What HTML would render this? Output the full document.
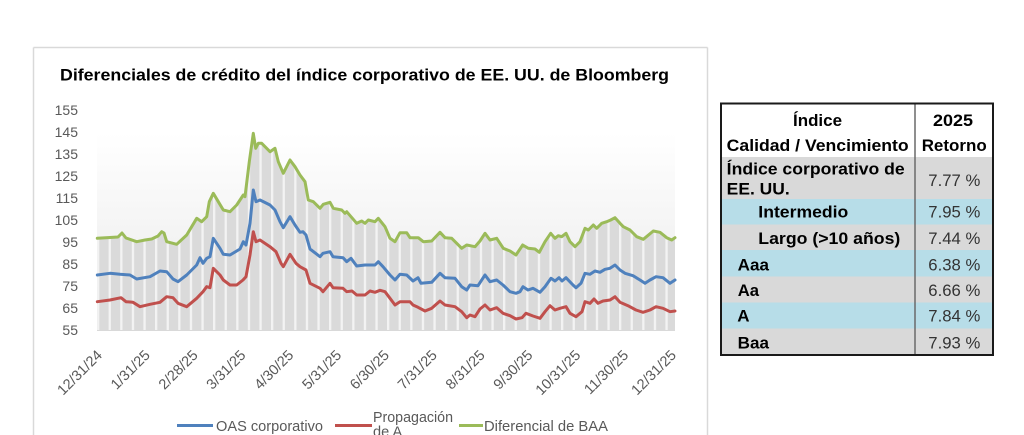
<!DOCTYPE html>
<html>
<head>
<meta charset="utf-8">
<style>
html,body{margin:0;padding:0;background:#fff;}
body{width:1024px;height:435px;overflow:hidden;}
svg{display:block;}
text{font-family:"Liberation Sans",Arial,sans-serif;}
</style>
</head>
<body>
<svg width="1024" height="435" viewBox="0 0 1024 435" xmlns="http://www.w3.org/2000/svg">
<defs>
  <linearGradient id="bg" x1="0" y1="0" x2="0" y2="1">
    <stop offset="0" stop-color="#ffffff"/>
    <stop offset="1" stop-color="#e9e9e9"/>
  </linearGradient>
  <pattern id="stripes" patternUnits="userSpaceOnUse" x="97" y="0" width="11.6" height="10">
    <rect x="0" y="0" width="11.6" height="10" fill="#dadada"/>
    <rect x="0" y="0" width="2.3" height="10" fill="#f3f3f3"/>
  </pattern>
  <clipPath id="frameclip">
    <rect x="0" y="0" width="1024" height="435"/>
  </clipPath>
</defs>

<!-- chart frame -->
<line x1="33.5" y1="47.5" x2="707.5" y2="47.5" stroke="#d9d9d9" stroke-width="1.5"/>
<line x1="33.5" y1="47.5" x2="33.5" y2="435" stroke="#d9d9d9" stroke-width="1.5"/>
<line x1="707.5" y1="47.5" x2="707.5" y2="435" stroke="#d9d9d9" stroke-width="1.5"/>

<!-- title -->
<text x="60" y="80.5" font-size="17" font-weight="bold" fill="#000" textLength="609" lengthAdjust="spacingAndGlyphs">Diferenciales de crédito del índice corporativo de EE. UU. de Bloomberg</text>

<!-- plot background -->
<rect x="97" y="133" width="578" height="197" fill="url(#bg)"/>

<!-- gray columns area under BAA -->
<polygon fill="url(#stripes)" points="97.3,330 97.3,238.3 110,237.5 118,237 122,233 126,238 136.7,241.7 145,240 151.7,239 158,236 161.7,231.7 164,233 166.7,241.7 176.7,244.3 186.7,235 196.7,218.3 201.7,221.7 206.7,216.7 209.3,201.7 213.3,193.3 218.3,201.7 223.3,210 230,211.7 236.7,205 243.3,195 245,196.7 249.3,161.7 253.3,133.3 255.7,148.3 258.3,143.3 261.7,143.3 270,151.7 275,148.3 278.3,161.7 283.3,173.3 290,160 295,166.7 300,175 305,181.7 308.3,200 313.3,201.7 320,208.3 323.3,204.3 330,202.3 333.3,208.3 341.7,210 345,213.3 346.7,211.7 356.7,223.3 361.7,221 365,223.3 368.3,220 375,221.7 378.3,218.3 385,226.7 390,238.3 395,241.7 400,232.7 406.7,232.7 410,237.7 418.3,237.7 423.3,241.7 431.7,241 440,232.3 445,237.7 451.7,238.3 456.7,243.3 461.7,248.3 466.7,245 475,246.7 480,241 485,233.3 490,240 496.7,238.3 503.3,248.3 510,251 516,255 522.7,245 528.3,248.3 535,249 539.3,252.3 545,241.7 550.7,233.3 555,238.3 558.3,235.7 561.7,236.7 566,233.3 570,241.7 575,246.7 580,241.7 585,228.3 588.3,230 593.3,225 596.7,228.3 601.7,223.3 606.7,221.7 610.7,220 615,217.7 620,223.3 623.3,226.7 630,230 636.7,236.7 643.3,239.3 653.3,231 660,232.3 666.7,237.7 671.7,240 675,237.7 675,330"/>

<!-- axis line -->
<line x1="97" y1="330.5" x2="675" y2="330.5" stroke="#d9d9d9" stroke-width="1"/>

<!-- y labels -->
<g font-size="14" fill="#595959" text-anchor="end">
  <text x="78" y="115">155</text>
  <text x="78" y="137">145</text>
  <text x="78" y="159">135</text>
  <text x="78" y="181">125</text>
  <text x="78" y="203">115</text>
  <text x="78" y="225">105</text>
  <text x="78" y="247">95</text>
  <text x="78" y="269">85</text>
  <text x="78" y="291">75</text>
  <text x="78" y="313">65</text>
  <text x="78" y="335">55</text>
</g>

<!-- x labels -->
<g font-size="14.5" fill="#595959" text-anchor="end">
  <text transform="translate(103,356) rotate(-45)">12/31/24</text>
  <text transform="translate(150.8,356) rotate(-45)">1/31/25</text>
  <text transform="translate(198.7,356) rotate(-45)">2/28/25</text>
  <text transform="translate(246.5,356) rotate(-45)">3/31/25</text>
  <text transform="translate(294.3,356) rotate(-45)">4/30/25</text>
  <text transform="translate(342.2,356) rotate(-45)">5/31/25</text>
  <text transform="translate(390,356) rotate(-45)">6/30/25</text>
  <text transform="translate(437.8,356) rotate(-45)">7/31/25</text>
  <text transform="translate(485.7,356) rotate(-45)">8/31/25</text>
  <text transform="translate(533.5,356) rotate(-45)">9/30/25</text>
  <text transform="translate(581.3,356) rotate(-45)">10/31/25</text>
  <text transform="translate(629.2,356) rotate(-45)">11/30/25</text>
  <text transform="translate(677,356) rotate(-45)">12/31/25</text>
</g>

<!-- series -->
<g fill="none" stroke-width="3" stroke-linejoin="round" stroke-linecap="round">
<polyline stroke="#9bbb59" points="97.3,238.3 110,237.5 118,237 122,233 126,238 136.7,241.7 145,240 151.7,239 158,236 161.7,231.7 164,233 166.7,241.7 176.7,244.3 186.7,235 196.7,218.3 201.7,221.7 206.7,216.7 209.3,201.7 213.3,193.3 218.3,201.7 223.3,210 230,211.7 236.7,205 243.3,195 245,196.7 249.3,161.7 253.3,133.3 255.7,148.3 258.3,143.3 261.7,143.3 270,151.7 275,148.3 278.3,161.7 283.3,173.3 290,160 295,166.7 300,175 305,181.7 308.3,200 313.3,201.7 320,208.3 323.3,204.3 330,202.3 333.3,208.3 341.7,210 345,213.3 346.7,211.7 356.7,223.3 361.7,221 365,223.3 368.3,220 375,221.7 378.3,218.3 385,226.7 390,238.3 395,241.7 400,232.7 406.7,232.7 410,237.7 418.3,237.7 423.3,241.7 431.7,241 440,232.3 445,237.7 451.7,238.3 456.7,243.3 461.7,248.3 466.7,245 475,246.7 480,241 485,233.3 490,240 496.7,238.3 503.3,248.3 510,251 516,255 522.7,245 528.3,248.3 535,249 539.3,252.3 545,241.7 550.7,233.3 555,238.3 558.3,235.7 561.7,236.7 566,233.3 570,241.7 575,246.7 580,241.7 585,228.3 588.3,230 593.3,225 596.7,228.3 601.7,223.3 606.7,221.7 610.7,220 615,217.7 620,223.3 623.3,226.7 630,230 636.7,236.7 643.3,239.3 653.3,231 660,232.3 666.7,237.7 671.7,240 675,237.7"/>
<polyline stroke="#4f81bd" points="97.3,275 110,273.3 120,274.3 130,275 136.7,279 150,276.7 160,271 166.7,271.7 173,279 178,281.7 186.7,275 196.7,265 200,257.7 203,263.3 206.7,258.3 210,256.7 213.3,238.3 220,248.3 223.3,254.3 230,255 240,249 243.3,241.7 246,245 250,223.3 253.3,190 256,201.7 260,200 270,205 275,210 280,221.7 283.3,227.7 290,216.7 295,225 300,232.3 303,231.7 306,235 310,249 320,256.7 323,253.3 330,251.7 333,256.7 343,257.7 346.7,261.7 351,258.3 356.7,266 365,265 375,265 378.3,261.7 383,266.7 390,275 395,280 400,274.3 406.7,275 413,281 418,277.7 421,283.3 431.7,282.3 440,273.3 445,277.7 455,278.3 461.7,286.7 466.7,290 470,285 478,285.7 485,275 490,281.7 496.7,280 503,285 510,291.7 516,293.3 520,291.7 523,286.7 528,290 533,288.3 540,292.3 545,286.7 551,278.3 555,281 559,277.7 562,281 566,277.7 573,285 576,287.7 581,283.3 585,273.3 590,274.3 595,271 600,272.3 605,269.3 610,268.3 615,265 620,270 625,273.3 633,275.7 640,280 645,283.3 650,280 656,276.7 663,277.7 670,283.3 675,280"/>
<polyline stroke="#c0504d" points="97.3,301.7 110,300 121,297.7 126,301.7 133,302.3 140,306.7 150,304.3 160,302.3 166.7,296.7 173,297.7 178,303.3 186.7,306.7 196.7,298.3 203,291.7 206.7,286.7 210,287.7 213.3,268.3 220,275 223.3,280 230,285 236.7,285 243,280 246,276.7 250,255 253.3,231.7 256,241.7 260,240 270,246.7 276,251.7 281,263.3 283.3,266.7 290,254.3 296,263.3 300,266.7 306,270 310,283.3 320,288.3 323,291.7 330,283.3 333,287.7 343,288.3 346.7,291.7 352,291 356.7,295 365,295 370,291 375,292.3 380,290.3 385,291.7 390,298.3 395,305 400,301.7 410,301.7 413,305 418,307.3 425,311 431.7,308.3 440,301 445,305 455,306.7 461.7,311.7 466.7,317.7 470,315 475,316.7 480,309 485,305 490,310 496.7,307.7 503,313.3 510,315.7 516,319 522,317.7 526,313.3 533,316 540,318.3 545,311.7 550,305.7 555,310 560,308.3 566,306.7 570,313.3 576,316.7 582,311.7 585,301.7 590,303.3 594,299 598,303.3 603,301 610,300 615,296.7 620,302.3 628,305.7 636,310 643,312.3 650,310 656,306.7 663,308.3 670,311.7 675,311"/>
</g>

<!-- legend -->
<g font-size="14.6" fill="#595959" clip-path="url(#frameclip)">
  <line x1="177" y1="425.5" x2="213" y2="425.5" stroke="#4f81bd" stroke-width="3"/>
  <text x="216" y="431" textLength="107" lengthAdjust="spacingAndGlyphs">OAS corporativo</text>
  <line x1="335" y1="425.5" x2="372" y2="425.5" stroke="#c0504d" stroke-width="3"/>
  <text x="373" y="422" textLength="80" lengthAdjust="spacingAndGlyphs">Propagación</text>
  <text x="373" y="436.5">de A</text>
  <line x1="459" y1="425.5" x2="483" y2="425.5" stroke="#9bbb59" stroke-width="3"/>
  <text x="484" y="431" textLength="124" lengthAdjust="spacingAndGlyphs">Diferencial de BAA</text>
</g>

<!-- table -->
<rect x="721" y="103.5" width="272" height="53.5" fill="#ffffff"/>
<rect x="721" y="157" width="272" height="42" fill="#d9d9d9"/>
<rect x="721" y="199" width="272" height="25.5" fill="#b7dde8"/>
<rect x="721" y="224.5" width="272" height="25.5" fill="#d9d9d9"/>
<rect x="721" y="250" width="272" height="26.5" fill="#b7dde8"/>
<rect x="721" y="276.5" width="272" height="26" fill="#d9d9d9"/>
<rect x="721" y="302.5" width="272" height="26" fill="#b7dde8"/>
<rect x="721" y="328.5" width="272" height="26.5" fill="#d9d9d9"/>
<line x1="915" y1="104" x2="915" y2="355" stroke="#6a6a6a" stroke-width="1.5"/>
<rect x="721" y="103.5" width="272" height="251.5" fill="none" stroke="#1a1a1a" stroke-width="2"/>

<g font-size="17" font-weight="bold" fill="#000">
  <text x="793" y="126" textLength="49" lengthAdjust="spacingAndGlyphs">Índice</text>
  <text x="726.7" y="151" textLength="182" lengthAdjust="spacingAndGlyphs">Calidad / Vencimiento</text>
  <text x="933" y="126" textLength="40" lengthAdjust="spacingAndGlyphs">2025</text>
  <text x="921.7" y="151" textLength="65" lengthAdjust="spacingAndGlyphs">Retorno</text>
  <text x="726.7" y="174.5" textLength="178" lengthAdjust="spacingAndGlyphs">Índice corporativo de</text>
  <text x="726.7" y="194.5" textLength="63" lengthAdjust="spacingAndGlyphs">EE. UU.</text>
  <text x="758.3" y="217.7" textLength="90" lengthAdjust="spacingAndGlyphs">Intermedio</text>
  <text x="758.3" y="244" textLength="142" lengthAdjust="spacingAndGlyphs">Largo (&gt;10 años)</text>
  <text x="737.7" y="270.3" textLength="31.3" lengthAdjust="spacingAndGlyphs">Aaa</text>
  <text x="737.7" y="296" textLength="21.3" lengthAdjust="spacingAndGlyphs">Aa</text>
  <text x="737.2" y="321.7">A</text>
  <text x="737.7" y="348.3" textLength="31.3" lengthAdjust="spacingAndGlyphs">Baa</text>
</g>
<g font-size="16.5" fill="#333">
  <text x="928.3" y="186" textLength="52" lengthAdjust="spacingAndGlyphs">7.77 %</text>
  <text x="928.3" y="217.7" textLength="52" lengthAdjust="spacingAndGlyphs">7.95 %</text>
  <text x="928.3" y="244" textLength="52" lengthAdjust="spacingAndGlyphs">7.44 %</text>
  <text x="928.3" y="270.3" textLength="52" lengthAdjust="spacingAndGlyphs">6.38 %</text>
  <text x="928.3" y="296" textLength="52" lengthAdjust="spacingAndGlyphs">6.66 %</text>
  <text x="928.3" y="321.7" textLength="52" lengthAdjust="spacingAndGlyphs">7.84 %</text>
  <text x="928.3" y="348.3" textLength="52" lengthAdjust="spacingAndGlyphs">7.93 %</text>
</g>
</svg>
</body>
</html>
